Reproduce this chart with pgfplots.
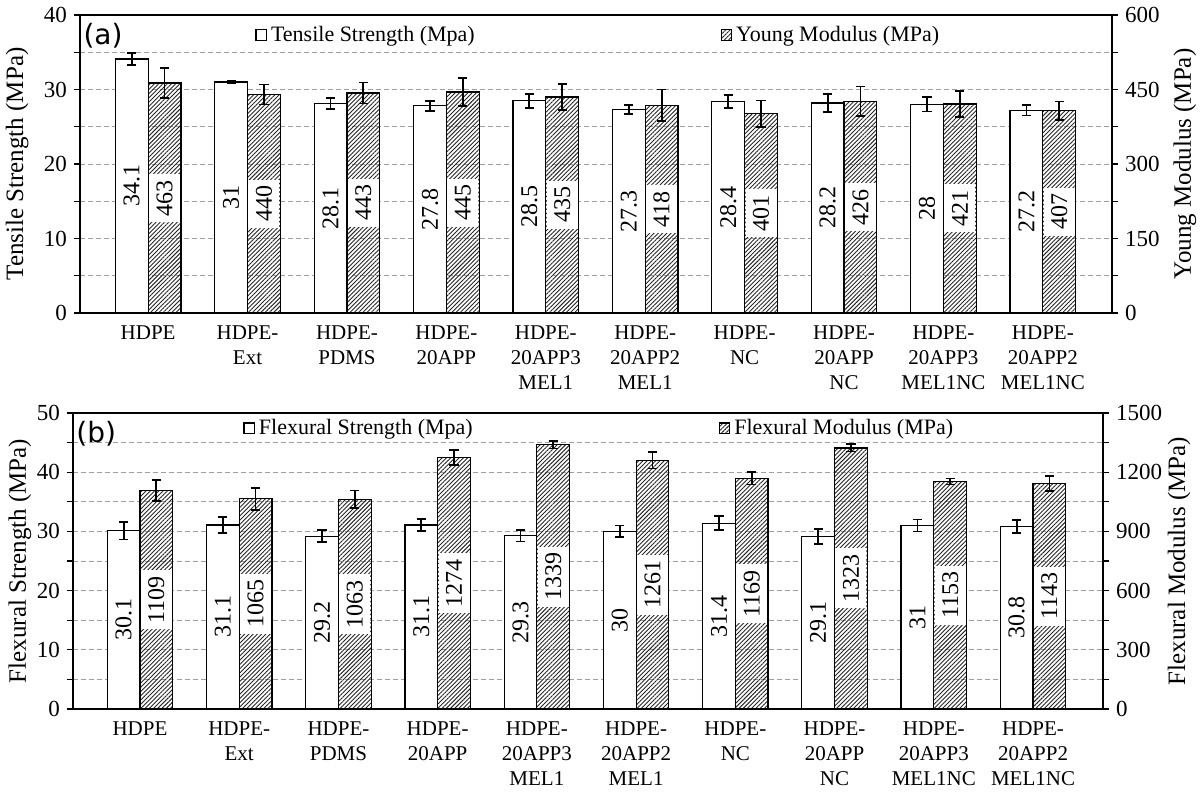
\documentclass[border=0pt]{standalone}
\usepackage{fontspec}
\setmainfont{Liberation Serif}
\newfontfamily\panelfont{DejaVu Sans}
\usepackage{pgfplots}
\usepackage{pgfplotstable}
\pgfplotsset{compat=1.18}
\usetikzlibrary{patterns.meta}

\pgfplotstableread{
x y e
0 34.1 0.85
1 31 0.2
2 28.1 0.75
3 27.8 0.7
4 28.5 0.95
5 27.3 0.6
6 28.4 0.85
7 28.2 1.2
8 28 0.95
9 27.2 0.7
}\tensile
\pgfplotstableread{
x y e
0 463 30
1 440 20
2 443 21
3 445 28
4 435 26
5 418 32
6 401 27
7 426 30
8 421 26
9 407 19
}\young
\pgfplotstableread{
x y e
0 30.1 1.45
1 31.1 1.35
2 29.2 1.05
3 31.1 1.0
4 29.3 1.0
5 30 1.0
6 31.4 1.2
7 29.1 1.25
8 31 1.0
9 30.8 1.1
}\flexs
\pgfplotstableread{
x y e
0 1109 53
1 1065 55
2 1063 44
3 1274 38
4 1339 19
5 1261 42
6 1169 31
7 1323 18
8 1153 15
9 1143 39
}\flexm

\tikzset{
  whitebar/.style={fill=white, draw=black, line width=0.6pt},
  hatchbar/.style={draw=black, line width=0.6pt, pattern={Lines[angle=45,distance=1.5pt,line width=0.45pt]}, pattern color=black!85},
}
\newcommand{\fs}{\rmfamily\fontsize{11}{13}\selectfont}
\newcommand{\flab}{\rmfamily\fontsize{12.5}{15}\selectfont}
\newcommand{\fbar}{\rmfamily\fontsize{12}{14}\selectfont}
\pgfplotsset{
  common/.style={
    scale only axis,
    ymin=0,
    xtick={0,...,9},
    xticklabels={HDPE,{HDPE-\\Ext},{HDPE-\\PDMS},{HDPE-\\20APP},{HDPE-\\20APP3\\MEL1},{HDPE-\\20APP2\\MEL1},{HDPE-\\NC},{HDPE-\\20APP\\NC},{HDPE-\\20APP3\\MEL1NC},{HDPE-\\20APP2\\MEL1NC}},
    x tick label style={align=center, font=\rmfamily\fontsize{10.5}{12.5}\selectfont},
    xtick style={draw=none},
    tick align=outside,
    major tick length=3pt, minor tick length=3pt,
    y tick label style={font=\rmfamily\fontsize{11.5}{13}\selectfont},
    /pgf/number format/assume math mode=true,
    /pgf/number format/1000 sep={},
    axis line style={line width=0.7pt},
    every tick/.style={black, line width=0.6pt},
    bar width=0.33,
  },
  errs/.style={error bars/.cd, y dir=both, y explicit,
    error bar style={line width=0.9pt, black},
    error mark options={rotate=90, mark size=2.3pt, line width=0.9pt, black}},
  labs/.style={only marks, mark=none, forget plot, nodes near coords, point meta=explicit symbolic,
    nodes near coords align={center},
    every node near coord/.append style={rotate=90, anchor=center, font=\fbar}},
  hlabs/.style={labs, every node near coord/.append style={fill=white, minimum height=15.5pt, inner xsep=3pt}},
  leftax/.style={common, ytick pos=left, ymajorgrids, yminorgrids,
    grid style={dash pattern=on 2.5pt off 1.5pt, gray!75, line width=0.5pt},
    minor grid style={dash pattern=on 2.5pt off 1.5pt, gray!75, line width=0.5pt},
    legend columns=2,
    legend style={draw=none, fill=none, font=\fs, inner sep=0pt, anchor=west,
      /tikz/every even column/.append style={column sep=121pt}},
    legend image code/.code={\draw[##1] (0pt,-2.6pt) rectangle (5.2pt,2.6pt);},
  },
  rightax/.style={common, hide x axis, axis y line*=right, ytick pos=right},
}

\begin{document}
\begin{tikzpicture}
\path[use as bounding box] (-40pt,-240.5pt) rectangle (560pt,156.5pt);

% ---------- panel (a)
\begin{axis}[leftax, at={(0pt,0pt)}, anchor=south west, width=516pt, height=149pt,
  xmin=-0.685, xmax=9.695, ymax=40, ytick={0,10,...,40}, minor ytick={5,15,25,35},
  ylabel={Tensile Strength (MPa)},
  every axis y label/.style={at={(axis description cs:-0.061,0.5)}, rotate=90, anchor=center, font=\flab},
  legend style={at={(axis description cs:0.1696,0.933)}}]
\addplot[ybar, bar shift=0pt, whitebar, errs] table[x expr=\thisrow{x}-0.165,y=y,y error=e]{\tensile};
\addlegendentry{Tensile Strength (Mpa)}
\addlegendimage{hatchbar}
\addlegendentry{Young Modulus (MPa)}
\addplot[labs] table[x expr=\thisrow{x}-0.165, y expr=\thisrow{y}/2, meta=y]{\tensile};
\node[font=\panelfont\fontsize{14}{16}\selectfont, anchor=north west, inner sep=0pt] at (axis description cs:0.003,0.975) {(a)};
\end{axis}
\begin{axis}[rightax, at={(0pt,0pt)}, anchor=south west, width=516pt, height=149pt,
  xmin=-0.685, xmax=9.695, ymax=600, ytick={0,150,...,600}, minor ytick={75,225,375,525},
  ylabel={Young Modulus (MPa)},
  every axis y label/.style={at={(axis description cs:1.0707,0.5)}, rotate=90, anchor=center, font=\flab}]
\addplot[ybar, bar shift=0pt, hatchbar, errs] table[x expr=\thisrow{x}+0.165,y=y,y error=e]{\young};
\addplot[hlabs] table[x expr=\thisrow{x}+0.165, y expr=\thisrow{y}/2, meta=y]{\young};
\end{axis}

% ---------- panel (b)
\begin{axis}[leftax, at={(-3.5pt,-198pt)}, anchor=south west, width=515pt, height=148pt,
  xmin=-0.675, xmax=9.705, ymax=50, ytick={0,10,...,50}, minor ytick={5,15,25,35,45},
  ylabel={Flexural Strength (MPa)},
  every axis y label/.style={at={(axis description cs:-0.0515,0.5)}, rotate=90, anchor=center, font=\flab},
  legend style={at={(axis description cs:0.165,0.949)}}]
\addplot[ybar, bar shift=0pt, whitebar, errs] table[x expr=\thisrow{x}-0.165,y=y,y error=e]{\flexs};
\addlegendentry{Flexural Strength (Mpa)}
\addlegendimage{hatchbar}
\addlegendentry{Flexural Modulus (MPa)}
\addplot[labs] table[x expr=\thisrow{x}-0.165, y expr=\thisrow{y}/2, meta=y]{\flexs};
\node[font=\panelfont\fontsize{14}{16}\selectfont, anchor=north west, inner sep=0pt] at (axis description cs:0.003,0.975) {(b)};
\end{axis}
\begin{axis}[rightax, at={(-3.5pt,-198pt)}, anchor=south west, width=515pt, height=148pt,
  xmin=-0.675, xmax=9.705, ymax=1500, ytick={0,300,...,1500}, minor ytick={150,450,750,1050,1350},
  ylabel={Flexural Modulus (MPa)},
  every axis y label/.style={at={(axis description cs:1.0738,0.5)}, rotate=90, anchor=center, font=\flab}]
\addplot[ybar, bar shift=0pt, hatchbar, errs] table[x expr=\thisrow{x}+0.165,y=y,y error=e]{\flexm};
\addplot[hlabs] table[x expr=\thisrow{x}+0.165, y expr=\thisrow{y}/2, meta=y]{\flexm};
\end{axis}
\end{tikzpicture}
\end{document}
